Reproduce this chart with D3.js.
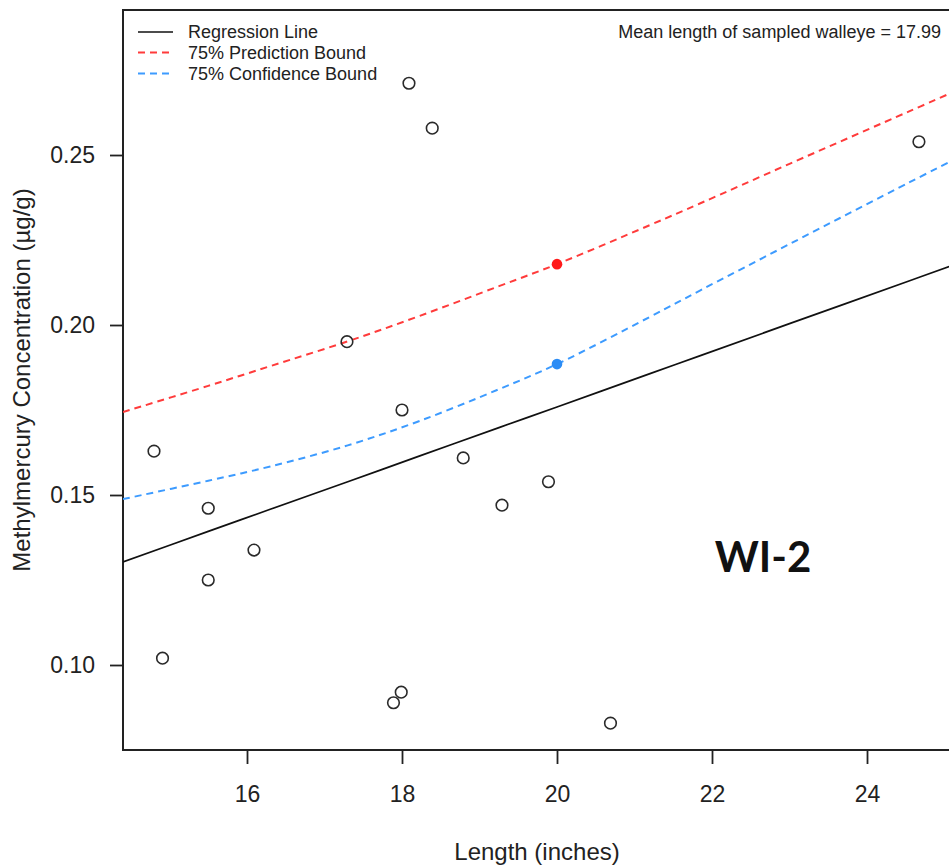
<!DOCTYPE html>
<html>
<head>
<meta charset="utf-8">
<script src="https://cdn.jsdelivr.net/npm/d3@7"></script>
<style>
  html, body { margin: 0; padding: 0; background: #fff; }
  svg { display: block; }
</style>
</head>
<body>
<svg id="chart" width="949" height="868"></svg>
<script>
// ---- data ----
const lengths = [14.80, 14.91, 15.50, 15.50, 16.09, 17.29, 17.89, 17.99, 18.00, 18.09, 18.39, 18.79, 19.29, 19.89, 20.69, 24.67];
const concentrations = [0.1629, 0.1020, 0.1461, 0.1250, 0.1338, 0.1951, 0.0889, 0.0920, 0.1750, 0.2711, 0.2579, 0.1609, 0.1470, 0.1539, 0.0829, 0.2539];

const curveX = [14.4, 15.5, 16.3, 17.3, 18.23, 19.26, 20, 21.2, 21.85, 23, 24.55, 25.06];
const regressionLine = [0.1303, 0.1393, 0.1458, 0.1539, 0.1615, 0.1699, 0.1759, 0.1857, 0.1910, 0.2004, 0.2130, 0.2172];
const predictionBound = [0.1744, 0.1821, 0.1879, 0.1952, 0.2027, 0.2115, 0.2179, 0.2294, 0.2358, 0.2474, 0.2629, 0.2680];
const confidenceBound = [0.1488, 0.1542, 0.1584, 0.1646, 0.1718, 0.1812, 0.1885, 0.2024, 0.2102, 0.2238, 0.2420, 0.2479];

const highlightX = [20, 20];
const highlightY = [0.2179, 0.1885];

const xTicks = [16, 18, 20, 22, 24];
const yTicks = [0.10, 0.15, 0.20, 0.25];

const legendLabels = ["Regression Line", "75% Prediction Bound", "75% Confidence Bound"];
const meanNote = "Mean length of sampled walleye = 17.99";
const siteLabel = "WI-2";
const xTitle = "Length (inches)";
const yTitle = "Methylmercury Concentration (\u00b5g/g)";

// ---- layout ----
const plot = { left: 123, right: 949, top: 10, bottom: 750 };
const svg = d3.select("#chart");
const FONT = "'Liberation Sans', Arial, sans-serif";

const x = d3.scaleLinear().domain([14.4, 25.058]).range([plot.left, plot.right]);
const y = d3.scaleLinear().domain([0.075, 0.29265]).range([plot.bottom, plot.top]);

svg.append("defs").append("clipPath").attr("id", "clip")
  .append("rect")
  .attr("x", plot.left).attr("y", plot.top)
  .attr("width", plot.right - plot.left + 5).attr("height", plot.bottom - plot.top);

// axes
const xAxis = svg.append("g")
  .attr("transform", `translate(0,${plot.bottom})`)
  .call(d3.axisBottom(x).tickValues(xTicks).tickFormat(d3.format("d")).tickSize(14).tickPadding(22));
const yAxis = svg.append("g")
  .attr("transform", `translate(${plot.left},0)`)
  .call(d3.axisLeft(y).tickValues(yTicks).tickFormat(d3.format(".2f")).tickSize(13).tickPadding(15));
[xAxis, yAxis].forEach(g => {
  g.select(".domain").remove();
  g.selectAll(".tick line").attr("stroke", "#222").attr("stroke-width", 1.8);
  g.selectAll(".tick text").attr("fill", "#222").style("font-family", FONT).style("font-size", "23px");
});

// frame
svg.append("rect")
  .attr("x", plot.left).attr("y", plot.top)
  .attr("width", plot.right - plot.left + 10).attr("height", plot.bottom - plot.top)
  .attr("fill", "none").attr("stroke", "#222").attr("stroke-width", 2);

const g = svg.append("g").attr("clip-path", "url(#clip)");
const line = d3.line().curve(d3.curveCatmullRom.alpha(0.5))
  .x((d, i) => x(curveX[i])).y(d => y(d));

g.append("path").datum(predictionBound).attr("d", line)
  .attr("fill", "none").attr("stroke", "#ff3b3b").attr("stroke-width", 2).attr("stroke-dasharray", "7,5");
g.append("path").datum(confidenceBound).attr("d", line)
  .attr("fill", "none").attr("stroke", "#3d9bff").attr("stroke-width", 2).attr("stroke-dasharray", "7,5");
g.append("path").datum(regressionLine).attr("d", line)
  .attr("fill", "none").attr("stroke", "#111").attr("stroke-width", 1.7);

// scatter
g.selectAll("circle.pt").data(lengths).join("circle").attr("class", "pt")
  .attr("cx", d => x(d)).attr("cy", (d, i) => y(concentrations[i]))
  .attr("r", 5.8).attr("fill", "none").attr("stroke", "#2a2a2a").attr("stroke-width", 1.6);

// highlighted points
const hlColors = ["#ff1a1a", "#2b8cf5"];
g.selectAll("circle.hl").data(highlightX).join("circle").attr("class", "hl")
  .attr("cx", d => x(d)).attr("cy", (d, i) => y(highlightY[i]))
  .attr("r", 5.3).attr("fill", (d, i) => hlColors[i]);

// legend
const legendColors = ["#111", "#ff3b3b", "#3d9bff"];
const legendDash = [null, "7,5", "7,5"];
const legendY = [32, 52.5, 73.5];
legendLabels.forEach((lab, i) => {
  svg.append("line").attr("x1", 138).attr("x2", 173).attr("y1", legendY[i]).attr("y2", legendY[i])
    .attr("stroke", legendColors[i]).attr("stroke-width", i === 0 ? 1.7 : 2)
    .attr("stroke-dasharray", legendDash[i]);
  svg.append("text").attr("x", 188).attr("y", legendY[i] + 6)
    .style("font-family", FONT).style("font-size", "18px").attr("fill", "#222").text(lab);
});

svg.append("text").attr("x", 941).attr("y", 38).attr("text-anchor", "end")
  .style("font-family", FONT).style("font-size", "18px").attr("fill", "#222").text(meanNote);

svg.append("text").attr("x", 763).attr("y", 572).attr("text-anchor", "middle")
  .style("font-family", "Lato, 'Open Sans', sans-serif").style("font-weight", "bold").style("font-size", "42px")
  .attr("fill", "#111").text(siteLabel);

// axis titles
svg.append("text").attr("x", 537).attr("y", 860).attr("text-anchor", "middle")
  .style("font-family", FONT).style("font-size", "24px").attr("fill", "#222").text(xTitle);
svg.append("text").attr("transform", "translate(30,380) rotate(-90)").attr("text-anchor", "middle")
  .style("font-family", FONT).style("font-size", "24px").attr("fill", "#222").text(yTitle);
</script>
</body>
</html>
